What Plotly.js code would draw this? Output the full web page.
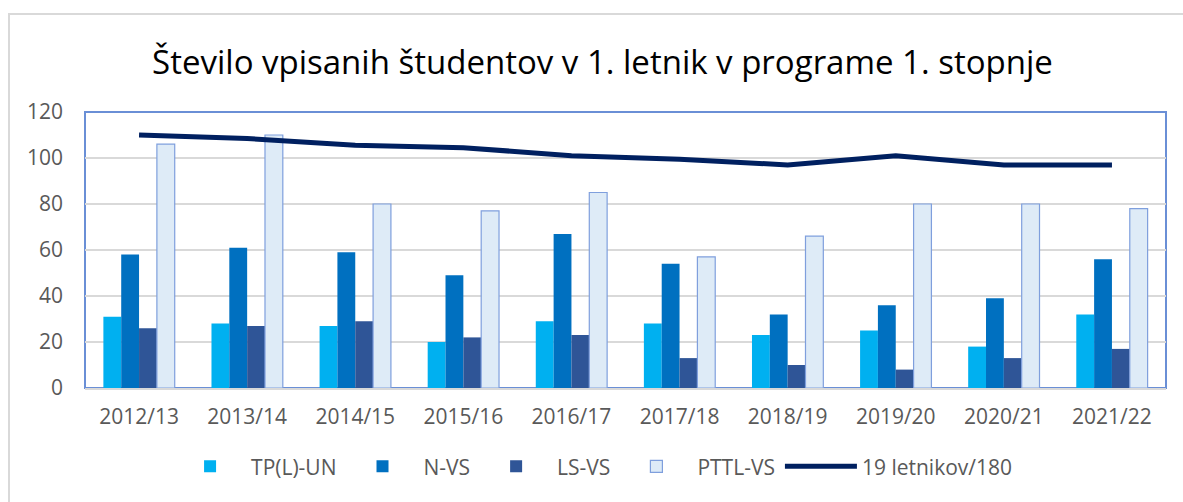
<!DOCTYPE html>
<html>
<head>
<meta charset="utf-8">
<script src="https://cdn.plot.ly/plotly-3.0.1.min.js"></script>
<style>
  html, body { margin: 0; padding: 0; background: #ffffff; }
  #wrap { position: relative; width: 1183px; height: 502px; overflow: hidden; }
  #frame { position: absolute; left: 8px; top: 13px; width: 1300px; height: 600px;
           border-left: 2px solid #D9D9D9; border-top: 2px solid #D9D9D9; box-sizing: border-box; pointer-events: none; z-index: 2; }
  #chart { position: absolute; left: 0; top: 0; width: 1183px; height: 502px; }
</style>
</head>
<body>
<div id="wrap">
  <div id="chart"></div>
  <div id="frame"></div>
</div>
<script>
const categories = ["2012/13","2013/14","2014/15","2015/16","2016/17","2017/18","2018/19","2019/20","2020/21","2021/22"];
const tplUn  = [31, 28, 27, 20, 29, 28, 23, 25, 18, 32];
const nVs    = [58, 61, 59, 49, 67, 54, 32, 36, 39, 56];
const lsVs   = [26, 27, 29, 22, 23, 13, 10, 8, 13, 17];
const pttlVs = [106, 110, 80, 77, 85, 57, 66, 80, 80, 78];
const letnikov = [110, 108.5, 105.5, 104.5, 101, 99.5, 97, 101, 97, 97];
const yTicks = [0, 20, 40, 60, 80, 100, 120];

const FONT = "'Open Sans', 'Noto Sans', sans-serif";

const traces = [
  { type: "bar", name: "TP(L)-UN", x: categories, y: tplUn, marker: { color: "#00B0F0", line: { width: 0 } } },
  { type: "bar", name: "N-VS", x: categories, y: nVs, marker: { color: "#0070C0", line: { width: 0 } } },
  { type: "bar", name: "LS-VS", x: categories, y: lsVs, marker: { color: "#2F5597", line: { width: 0 } } },
  { type: "bar", name: "PTTL-VS", x: categories, y: pttlVs, marker: { color: "#DEEBF7", line: { color: "#7F9FDD", width: 1.2 } } },
  { type: "scatter", mode: "lines", name: "19 letnikov/180", x: categories, y: letnikov,
    line: { color: "#002060", width: 5 } }
];

const layout = {
  width: 1183, height: 502,
  margin: { l: 85, r: 17, t: 112, b: 114 },
  paper_bgcolor: "#ffffff", plot_bgcolor: "#ffffff",
  font: { family: FONT, color: "#595959", size: 20 },
  title: { text: "Število vpisanih študentov v 1. letnik v programe 1. stopnje",
           font: { family: FONT, size: 33, color: "#000000" },
           xref: "paper", x: 0.4787, xanchor: "center",
           yref: "container", y: 0.876, yanchor: "middle" },
  barmode: "group", bargap: 0.34, bargroupgap: 0,
  showlegend: true,
  legend: { orientation: "h", x: 0.47, xanchor: "center", xref: "paper", y: -0.285, yanchor: "middle",
            font: { family: FONT, size: 21, color: "#595959" }, traceorder: "normal", itemwidth: 72 },
  xaxis: { type: "category", showgrid: false, showline: true, linecolor: "#D9D9D9", linewidth: 2,
           ticks: "", tickfont: { family: FONT, size: 21, color: "#595959" }, ticklabelstandoff: 9, layer: "above traces" },
  yaxis: { range: [0, 120], tickvals: yTicks, showgrid: true, gridcolor: "#D9D9D9", gridwidth: 1.5,
           zeroline: false, showline: false, ticks: "", tickfont: { family: FONT, size: 21, color: "#595959" },
           ticklabelstandoff: 21 },
  shapes: [
    { type: "rect", xref: "paper", yref: "paper", x0: 0, x1: 1, y0: 0, y1: 1,
      line: { color: "#6A8FD6", width: 2 }, layer: "below" }
  ],
  hovermode: false
};

Plotly.newPlot("chart", traces, layout, { displayModeBar: false, staticPlot: true });
</script>
</body>
</html>
